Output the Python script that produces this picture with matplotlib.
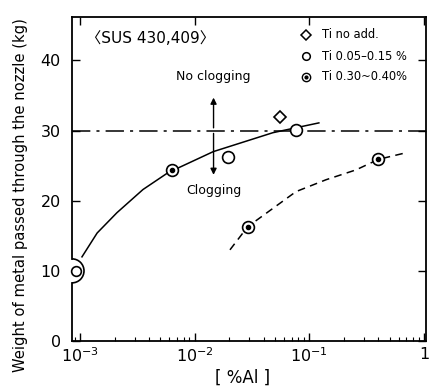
import matplotlib
matplotlib.use("Agg")
import matplotlib.pyplot as plt
from matplotlib.patches import Arc
from matplotlib.ticker import LogLocator, NullFormatter, FixedLocator, FixedFormatter

plt.rcParams['font.family'] = ['DejaVu Sans']

# ---- data ----
ti_none_x = [0.055]
ti_none_y = [32.0]

ti_low_x = [0.00092, 0.0194, 0.076]
ti_low_y = [10.0, 26.3, 30.1]

ti_high_x = [0.0063, 0.029, 0.40]
ti_high_y = [24.4, 16.3, 25.9]

solid_x = [0.00104, 0.00141, 0.0021, 0.00354, 0.00585, 0.0145, 0.048, 0.076, 0.121]
solid_y = [12.0, 15.4, 18.3, 21.6, 24.0, 27.0, 29.7, 30.4, 31.1]

dash_x = [0.0203, 0.029, 0.0764, 0.14, 0.255, 0.40, 0.72]
dash_y = [13.0, 16.3, 21.3, 23.0, 24.4, 25.9, 26.9]

critical_y = 30
xticks = [1e-3, 1e-2, 1e-1, 1]
xticklabels = ['$10^{-3}$', '$10^{-2}$', '$10^{-1}$', '1']
yticks = [0, 10, 20, 30, 40]

legend_labels = ['Ti no add.', 'Ti 0.05\u20130.15 %', 'Ti 0.30~0.40%']

fig = plt.figure(figsize=(4.32, 3.87), dpi=100)
ax = fig.add_axes([72/432, 1-341/387, 354/432, 324/387])
ax.set_xscale('log')
ax.set_xlim(10**-3.07, 10**0.017)
ax.set_ylim(0, 46.2)

# curves
ax.plot(solid_x, solid_y, color='black', lw=1.1, zorder=2)
ax.plot(dash_x, dash_y, color='black', lw=1.1, dashes=(5, 3.5), zorder=2)
ax.axhline(critical_y, color='black', lw=1.1, dashes=(12, 4, 2, 4), zorder=1)

# markers
ax.plot(ti_none_x, ti_none_y, 'D', ms=6, mfc='white', mec='black', mew=1.2, zorder=4)
ax.plot(ti_low_x[:1], ti_low_y[:1], 'o', ms=7, mfc='white', mec='black', mew=1.2, zorder=4, clip_on=False)
ax.plot(ti_low_x[1:], ti_low_y[1:], 'o', ms=8.5, mfc='white', mec='black', mew=1.2, zorder=4)
ax.plot(ti_high_x, ti_high_y, 'o', ms=8.5, mfc='white', mec='black', mew=1.2, zorder=4)
ax.plot(ti_high_x, ti_high_y, 'o', ms=3, mfc='black', mec='black', zorder=5)

# axis break semicircle on left axis
ax.spines['left'].set_visible(False)
yb = 10 / 46.2
r_x, r_y = 12/354, 12/324
ax.plot([0, 0], [0, yb - r_y], transform=ax.transAxes, color='black', lw=1.3, clip_on=False)
ax.plot([0, 0], [yb + r_y, 1], transform=ax.transAxes, color='black', lw=1.3, clip_on=False)
ax.add_patch(Arc((0, yb), 2*r_x, 2*r_y, theta1=-90, theta2=90, transform=ax.transAxes,
                 color='black', lw=1.2, clip_on=False))

# arrows & texts
ax_x = 0.0146
ax.annotate('', xy=(ax_x, 35.1), xytext=(ax_x, 30), arrowprops=dict(arrowstyle='-|>', color='black', lw=1.0, mutation_scale=9))
ax.annotate('', xy=(ax_x, 23.3), xytext=(ax_x, 30), arrowprops=dict(arrowstyle='-|>', color='black', lw=1.0, mutation_scale=9))
ax.text(ax_x, 37.7, 'No clogging', ha='center', va='center', fontsize=9)
ax.text(ax_x, 21.5, 'Clogging', ha='center', va='center', fontsize=9)
ax.text(0.04, 0.935, '\u3008SUS 430,409\u3009', transform=ax.transAxes, ha='left', va='center', fontsize=11,
        family=['DejaVu Sans', 'Noto Sans CJK JP'])

# legend (manual)
lx_px = 306
leg_y = [35, 56, 77]
for i, (py, lab) in enumerate(zip(leg_y, legend_labels)):
    xa = (lx_px - 72) / 354
    ya = (341 - py) / 324
    if i == 0:
        ax.plot([xa], [ya], 'D', ms=5, mfc='white', mec='black', mew=1.1, transform=ax.transAxes)
    elif i == 1:
        ax.plot([xa], [ya], 'o', ms=5.5, mfc='white', mec='black', mew=1.1, transform=ax.transAxes)
    else:
        ax.plot([xa], [ya], 'o', ms=6, mfc='white', mec='black', mew=1.0, transform=ax.transAxes)
        ax.plot([xa], [ya], 'o', ms=2, mfc='black', mec='black', transform=ax.transAxes)
    ax.text((322 - 72) / 354, ya, lab, transform=ax.transAxes, ha='left', va='center', fontsize=8.3)

# ticks
ax.xaxis.set_major_locator(FixedLocator(xticks))
ax.xaxis.set_major_formatter(FixedFormatter(xticklabels))
ax.xaxis.set_minor_locator(LogLocator(base=10, subs=range(2, 10)))
ax.xaxis.set_minor_formatter(NullFormatter())
ax.set_yticks(yticks)
ax.tick_params(axis='both', which='major', direction='in', length=6, width=1, labelsize=11.5, top=True, right=True)
ax.tick_params(axis='x', which='minor', direction='in', length=3, width=0.8, top=False)
ax.tick_params(axis='x', which='major', pad=4)
ax.tick_params(axis='y', which='major', pad=8)
for s in ['top', 'right', 'bottom']:
    ax.spines[s].set_linewidth(1.3)

ax.set_xlabel('[ %Al ]', fontsize=12)
ax.xaxis.set_label_coords((243 - 72) / 354, (341 - 369) / 324)
ax.set_ylabel('Weight of metal passed through the nozzle (kg)', fontsize=10.6)
ax.yaxis.set_label_coords((28 - 72) / 354, (341 - 195) / 324)

fig.savefig('out.png', dpi=100)
